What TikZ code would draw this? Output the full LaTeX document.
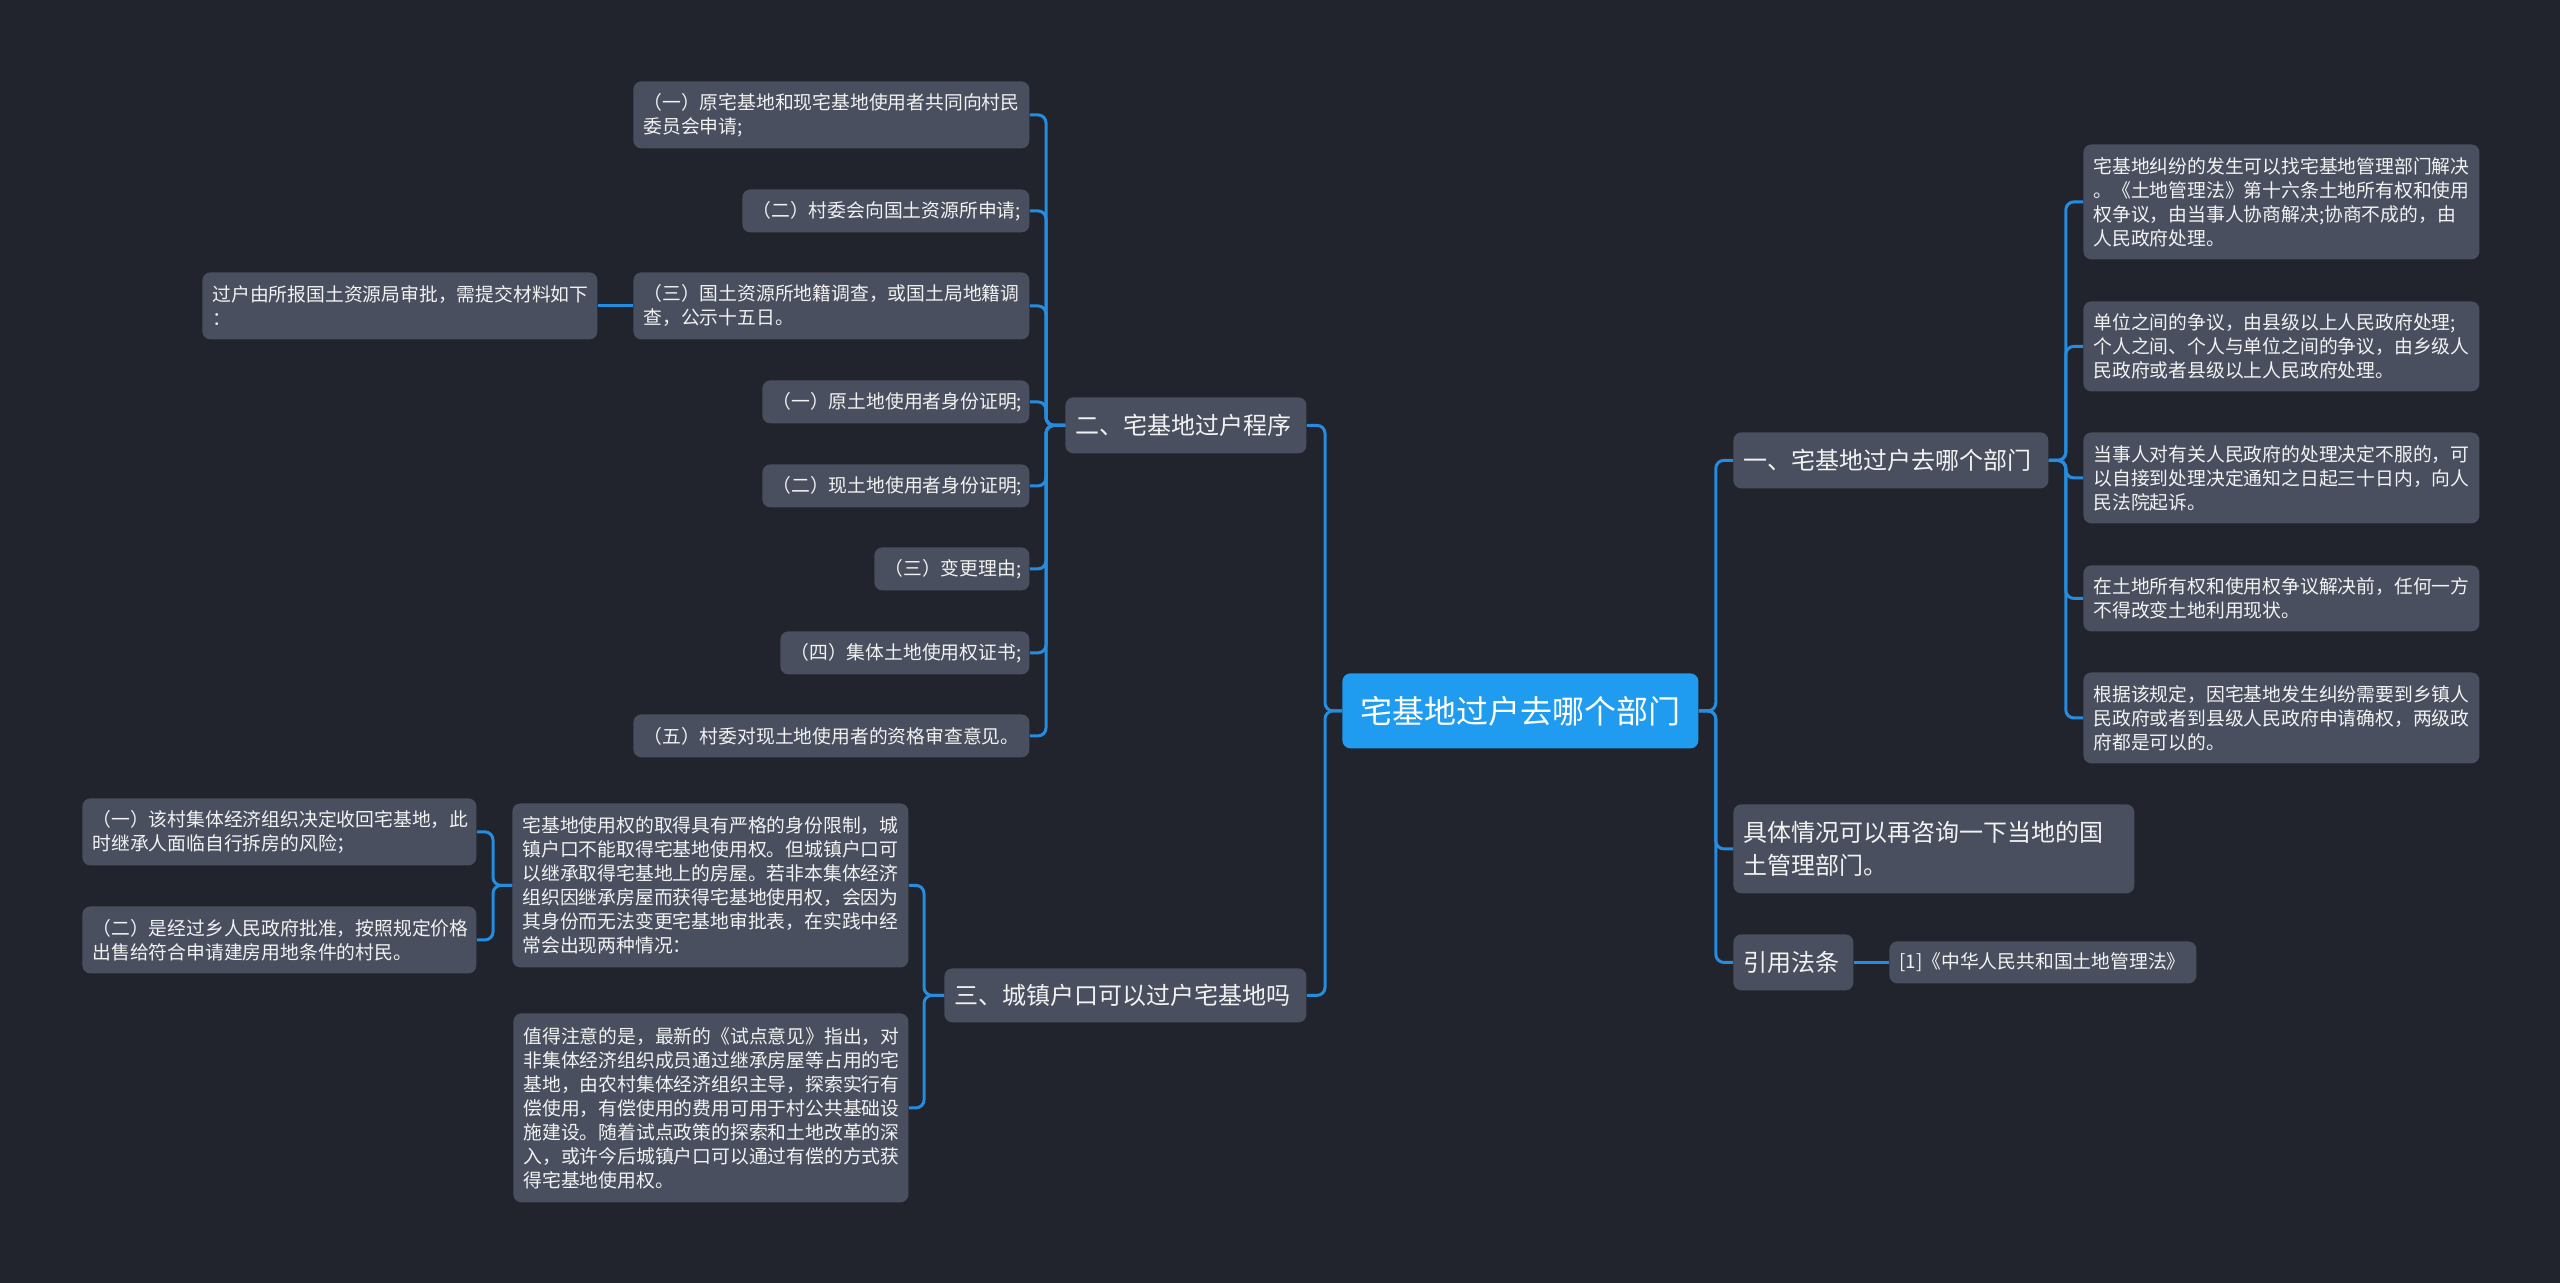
\documentclass[tikz,border=0pt]{standalone}
\usepackage{fontspec}
\setmainfont{Noto Sans CJK SC}
\definecolor{bgc}{HTML}{21242D}
\definecolor{nodec}{HTML}{494F5E}
\definecolor{rootc}{HTML}{1F9BF0}
\definecolor{linec}{HTML}{268CDE}
\definecolor{txtc}{HTML}{F2F2F2}
\tikzset{
  box/.style={fill=nodec, rounded corners=4pt, text=txtc, inner xsep=5pt, inner ysep=0pt, anchor=north west, align=left},
  leaf/.style 2 args={box, text width=#1pt, minimum height=#2pt, font=\fontsize{9.4}{12}\selectfont},
  mid/.style 2 args={box, text width=#1pt, minimum height=#2pt, font=\fontsize{12}{16.5}\selectfont},
  rootbox/.style={fill=rootc, rounded corners=4pt, text=white, inner sep=0pt, anchor=north west, align=center, minimum width=178pt, minimum height=37.5pt, font=\fontsize{16}{20}\selectfont},
  conn/.style={draw=linec, line width=1.5pt, rounded corners=4pt}
}
\begin{document}
\begin{tikzpicture}[x=0.5pt,y=-0.5pt]
\fill[bgc] (0,0) rectangle (2560,1283);
\useasboundingbox (0,0) rectangle (2560,1283);

% root
\node[rootbox] (root) at (1342,673) {宅基地过户去哪个部门};

% right side
\node[mid={147.5}{28}] (A) at (1733,432) {一、宅基地过户去哪个部门};
\node[mid={190.5}{44.5}] (B) at (1733,804) {具体情况可以再咨询一下当地的国\\土管理部门。};
\node[mid={50}{28}] (C) at (1733,934) {引用法条};
\node[leaf={143.5}{21}] (C1) at (1889,941) {[1]《中华人民共和国土地管理法》};

\node[leaf={188}{57.5}] (A1) at (2083,144) {宅基地纠纷的发生可以找宅基地管理部门解决\\。《土地管理法》第十六条土地所有权和使用\\权争议，由当事人协商解决;协商不成的，由\\人民政府处理。};
\node[leaf={188}{45}] (A2) at (2083,301) {单位之间的争议，由县级以上人民政府处理;\\个人之间、个人与单位之间的争议，由乡级人\\民政府或者县级以上人民政府处理。};
\node[leaf={188}{45.5}] (A3) at (2083,432) {当事人对有关人民政府的处理决定不服的，可\\以自接到处理决定通知之日起三十日内，向人\\民法院起诉。};
\node[leaf={188}{33}] (A4) at (2083,565) {在土地所有权和使用权争议解决前，任何一方\\不得改变土地利用现状。};
\node[leaf={188}{45.5}] (A5) at (2083,672) {根据该规定，因宅基地发生纠纷需要到乡镇人\\民政府或者到县级人民政府申请确权，两级政\\府都是可以的。};

% left side
\node[mid={110.5}{28}] (D) at (1065,397) {二、宅基地过户程序};
\node[mid={171}{27}] (E) at (944,968) {三、城镇户口可以过户宅基地吗};

\node[leaf={188}{33.5}] (D1) at (633,81) {（一）原宅基地和现宅基地使用者共同向村民\\委员会申请;};
\node[leaf={133.5}{21.5}] (D2) at (742,189) {（二）村委会向国土资源所申请;};
\node[leaf={188}{33.5}] (D3) at (633,272) {（三）国土资源所地籍调查，或国土局地籍调\\查，公示十五日。};
\node[leaf={123.5}{21.5}] (D4) at (762,380) {（一）原土地使用者身份证明;};
\node[leaf={123.5}{21.5}] (D5) at (762,464) {（二）现土地使用者身份证明;};
\node[leaf={67.5}{21.5}] (D6) at (874,547) {（三）变更理由;};
\node[leaf={114.5}{21.5}] (D7) at (780,631) {（四）集体土地使用权证书;};
\node[leaf={188}{21.5}] (D8) at (633,714) {（五）村委对现土地使用者的资格审查意见。};
\node[leaf={187.5}{33.5}] (D3a) at (202,272) {过户由所报国土资源局审批，需提交材料如下\\：};

\node[leaf={188}{82}] (E1) at (512,803) {宅基地使用权的取得具有严格的身份限制，城\\镇户口不能取得宅基地使用权。但城镇户口可\\以继承取得宅基地上的房屋。若非本集体经济\\组织因继承房屋而获得宅基地使用权，会因为\\其身份而无法变更宅基地审批表，在实践中经\\常会出现两种情况：};
\node[leaf={187.5}{94.5}] (E2) at (513,1013) {值得注意的是，最新的《试点意见》指出，对\\非集体经济组织成员通过继承房屋等占用的宅\\基地，由农村集体经济组织主导，探索实行有\\偿使用，有偿使用的费用可用于村公共基础设\\施建设。随着试点政策的探索和土地改革的深\\入，或许今后城镇户口可以通过有偿的方式获\\得宅基地使用权。};
\node[leaf={187}{33.5}] (E1a) at (82,798) {（一）该村集体经济组织决定收回宅基地，此\\时继承人面临自行拆房的风险；};
\node[leaf={187}{33.5}] (E1b) at (82,906) {（二）是经过乡人民政府批准，按照规定价格\\出售给符合申请建房用地条件的村民。};

% connectors
\foreach \c in {A,B,C} \draw[conn] (root.east) -- ++(17,0) |- (\c.west);
\foreach \c in {D,E} \draw[conn] (root.west) -- ++(-17,0) |- (\c.east);
\foreach \c in {A1,A2,A3,A4,A5} \draw[conn] (A.east) -- ++(17,0) |- (\c.west);
\foreach \c in {D1,D2,D3,D4,D5,D6,D7,D8} \draw[conn] (D.west) -- ++(-19,0) |- (\c.east);
\foreach \c in {E1,E2} \draw[conn] (E.west) -- ++(-20,0) |- (\c.east);
\foreach \c in {E1a,E1b} \draw[conn] (E1.west) -- ++(-19,0) |- (\c.east);
\draw[conn] (D3.west) -- (D3a.east);
\draw[conn] (C.east) -- (C1.west);
\end{tikzpicture}
\end{document}
